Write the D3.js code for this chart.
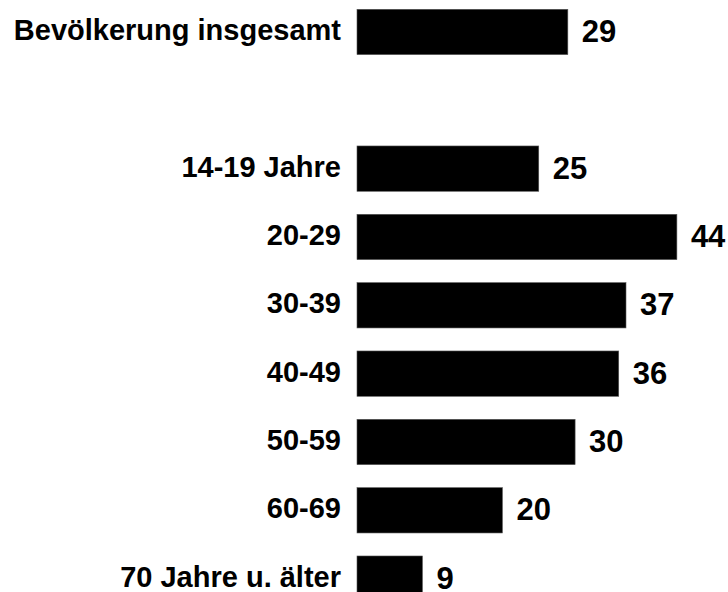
<!DOCTYPE html>
<html>
<head>
<meta charset="utf-8">
<script src="https://cdn.jsdelivr.net/npm/d3@7"></script>
<style>
  body { margin: 0; background: #fff; }
  text { font-family: "Liberation Sans", Arial, sans-serif; font-weight: bold; fill: #000; }
</style>
</head>
<body>
<script>
// categories (empty slot keeps the gap after the total)
var categories = ["Bevölkerung insgesamt", "", "14-19 Jahre", "20-29", "30-39", "40-49", "50-59", "60-69", "70 Jahre u. älter"];
var values = [29, null, 25, 44, 37, 36, 30, 20, 9];

var data = categories.map(function(c, i) { return { label: c, value: values[i], key: "k" + i }; });

var width = 728, height = 592;

var svg = d3.select("body")
    .append("svg")
    .attr("width", width)
    .attr("height", height);

var x = d3.scaleLinear()
    .domain([0, 50])
    .range([357, 720.5]);

var y = d3.scaleBand()
    .domain(data.map(d => d.key))
    .range([9.3, 601.3])
    .paddingInner(0.337)
    .paddingOuter(0);

var rows = data.filter(d => d.value !== null);

// bars
svg.selectAll(".bar")
    .data(rows)
    .enter()
    .append("rect")
    .attr("class", "bar")
    .attr("x", x(0))
    .attr("y", d => y(d.key))
    .attr("width", d => x(d.value) - x(0))
    .attr("height", y.bandwidth())
    .attr("fill", "#000")
    .attr("stroke", "#555")
    .attr("stroke-width", 0.6);

// category labels
svg.selectAll(".label")
    .data(rows)
    .enter()
    .append("text")
    .attr("class", "label")
    .attr("x", x(0) - 16)
    .attr("y", d => y(d.key) + y.bandwidth() / 2 + 8)
    .attr("text-anchor", "end")
    .style("font-size", "29px")
    .text(d => d.label);

// value labels
svg.selectAll(".value")
    .data(rows)
    .enter()
    .append("text")
    .attr("class", "value")
    .attr("x", d => x(d.value) + 14)
    .attr("y", d => y(d.key) + y.bandwidth() / 2 + 10)
    .style("font-size", "31px")
    .text(d => d.value);
</script>
</body>
</html>
